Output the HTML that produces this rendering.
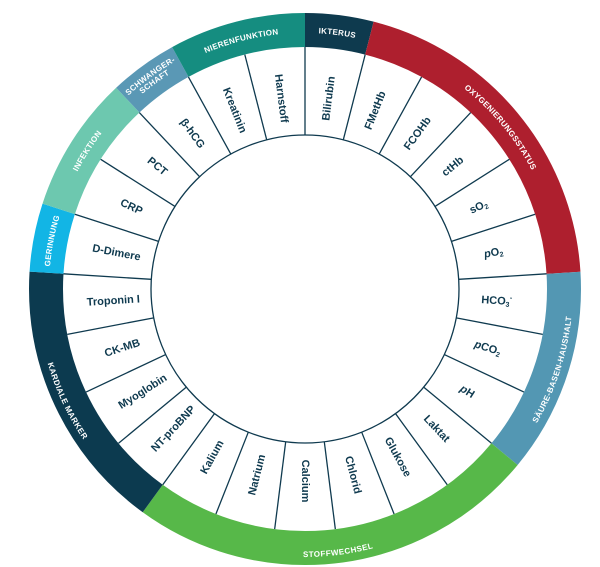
<!DOCTYPE html>
<html><head><meta charset="utf-8"><style>
html,body{margin:0;padding:0;background:#fff;width:600px;height:567px;overflow:hidden}
svg{display:block}
.l{font-family:"Liberation Sans",sans-serif;font-weight:bold;font-size:11px;fill:#0f3a4f;text-anchor:middle;dominant-baseline:central}
.b{font-family:"Liberation Sans",sans-serif;font-weight:bold;font-size:8px;fill:#fff;text-anchor:middle;letter-spacing:0.3px}
</style></head><body>
<svg width="600" height="567" viewBox="0 0 600 567">
<defs>
<path id="cw" d="M305,545 A256,256 0 0 1 305,33 A256,256 0 0 1 305,545"/>
<path id="cwo" d="M305,551 A262,262 0 0 1 305,27 A262,262 0 0 1 305,551"/>
<path id="cwi" d="M305,543 A254,254 0 0 1 305,35 A254,254 0 0 1 305,543"/>
<path id="ccw" d="M305,27 A262,262 0 0 0 305,551 A262,262 0 0 0 305,27"/>
</defs>
<g transform="translate(305 289) rotate(-90)" fill="none" stroke-width="34">
<circle r="259" stroke="#0e3a4e" stroke-dasharray="65.09 2000" stroke-dashoffset="0"/>
<circle r="259" stroke="#ae1f2e" stroke-dasharray="325.46 2000" stroke-dashoffset="-65.09"/>
<circle r="259" stroke="#5397b3" stroke-dasharray="195.28 2000" stroke-dashoffset="-390.55"/>
<circle r="259" stroke="#57b849" stroke-dasharray="390.55 2000" stroke-dashoffset="-585.83"/>
<circle r="259" stroke="#0c3a4f" stroke-dasharray="260.37 2000" stroke-dashoffset="-976.38"/>
<circle r="259" stroke="#12b5e5" stroke-dasharray="65.09 2000" stroke-dashoffset="-1236.75"/>
<circle r="259" stroke="#6dc8af" stroke-dasharray="130.18 2000" stroke-dashoffset="-1301.84"/>
<circle r="259" stroke="#5a98b5" stroke-dasharray="65.09 2000" stroke-dashoffset="-1432.02"/>
<circle r="259" stroke="#158d80" stroke-dasharray="130.18 2000" stroke-dashoffset="-1497.11"/>
</g>
<circle cx="305" cy="289" r="154" fill="#fff" stroke="#0f3a4f" stroke-width="1.3"/>
<g transform="translate(305 289)" stroke="#0f3a4f" stroke-width="1.3">
<line x1="0" y1="-154" x2="0" y2="-242" transform="rotate(0)"/>
<line x1="0" y1="-154" x2="0" y2="-242" transform="rotate(14.4)"/>
<line x1="0" y1="-154" x2="0" y2="-242" transform="rotate(28.8)"/>
<line x1="0" y1="-154" x2="0" y2="-242" transform="rotate(43.2)"/>
<line x1="0" y1="-154" x2="0" y2="-242" transform="rotate(57.6)"/>
<line x1="0" y1="-154" x2="0" y2="-242" transform="rotate(72)"/>
<line x1="0" y1="-154" x2="0" y2="-242" transform="rotate(86.4)"/>
<line x1="0" y1="-154" x2="0" y2="-242" transform="rotate(100.8)"/>
<line x1="0" y1="-154" x2="0" y2="-242" transform="rotate(115.2)"/>
<line x1="0" y1="-154" x2="0" y2="-242" transform="rotate(129.6)"/>
<line x1="0" y1="-154" x2="0" y2="-242" transform="rotate(144)"/>
<line x1="0" y1="-154" x2="0" y2="-242" transform="rotate(158.4)"/>
<line x1="0" y1="-154" x2="0" y2="-242" transform="rotate(172.8)"/>
<line x1="0" y1="-154" x2="0" y2="-242" transform="rotate(187.2)"/>
<line x1="0" y1="-154" x2="0" y2="-242" transform="rotate(201.6)"/>
<line x1="0" y1="-154" x2="0" y2="-242" transform="rotate(216)"/>
<line x1="0" y1="-154" x2="0" y2="-242" transform="rotate(230.4)"/>
<line x1="0" y1="-154" x2="0" y2="-242" transform="rotate(244.8)"/>
<line x1="0" y1="-154" x2="0" y2="-242" transform="rotate(259.2)"/>
<line x1="0" y1="-154" x2="0" y2="-242" transform="rotate(273.6)"/>
<line x1="0" y1="-154" x2="0" y2="-242" transform="rotate(288)"/>
<line x1="0" y1="-154" x2="0" y2="-242" transform="rotate(302.4)"/>
<line x1="0" y1="-154" x2="0" y2="-242" transform="rotate(316.8)"/>
<line x1="0" y1="-154" x2="0" y2="-242" transform="rotate(331.2)"/>
<line x1="0" y1="-154" x2="0" y2="-242" transform="rotate(345.6)"/>
</g>
<g transform="translate(305 289)">
<text class="l" transform="rotate(-82.8) translate(192 0)">Bilirubin</text>
<text class="l" transform="rotate(-68.4) translate(192 0)">FMetHb</text>
<text class="l" transform="rotate(-54) translate(192 0)">FCOHb</text>
<text class="l" transform="rotate(-39.6) translate(192 0)">ctHb</text>
<text class="l" transform="rotate(-25.2) translate(192 0)">sO<tspan font-size="7" dy="3">2</tspan></text>
<text class="l" transform="rotate(-10.8) translate(192 0)"><tspan font-style="italic">p</tspan>O<tspan font-size="7" dy="3">2</tspan></text>
<text class="l" transform="rotate(3.6) translate(192 0)">HCO<tspan font-size="7" dy="3">3</tspan><tspan font-size="7" dy="-7">-</tspan></text>
<text class="l" transform="rotate(18) translate(192 0)"><tspan font-style="italic">p</tspan>CO<tspan font-size="7" dy="3">2</tspan></text>
<text class="l" transform="rotate(32.4) translate(192 0)"><tspan font-style="italic">p</tspan>H</text>
<text class="l" transform="rotate(46.8) translate(192 0)">Laktat</text>
<text class="l" transform="rotate(61.2) translate(192 0)">Glukose</text>
<text class="l" transform="rotate(75.6) translate(192 0)">Chlorid</text>
<text class="l" transform="rotate(90) translate(192 0)">Calcium</text>
<text class="l" transform="rotate(284.4) translate(-192 0)">Natrium</text>
<text class="l" transform="rotate(298.8) translate(-192 0)">Kalium</text>
<text class="l" transform="rotate(313.2) translate(-192 0)">NT-proBNP</text>
<text class="l" transform="rotate(327.6) translate(-192 0)">Myoglobin</text>
<text class="l" transform="rotate(342) translate(-192 0)">CK-MB</text>
<text class="l" transform="rotate(356.4) translate(-192 0)">Troponin I</text>
<text class="l" transform="rotate(370.8) translate(-192 0)">D-Dimere</text>
<text class="l" transform="rotate(385.2) translate(-192 0)">CRP</text>
<text class="l" transform="rotate(399.6) translate(-192 0)">PCT</text>
<text class="l" transform="rotate(414) translate(-192 0)">β-hCG</text>
<text class="l" transform="rotate(428.4) translate(-192 0)">Kreatinin</text>
<text class="l" transform="rotate(442.8) translate(-192 0)">Harnstoff</text>
</g>
<text class="b"><textPath href="#cw" startOffset="52%">IKTERUS</textPath></text>
<text class="b"><textPath href="#cw" startOffset="64%">OXYGENIERUNGSSTATUS</textPath></text>
<text class="b"><textPath href="#cw" startOffset="28%">GERINNUNG</textPath></text>
<text class="b"><textPath href="#cw" startOffset="34%">INFEKTION</textPath></text>
<text class="b" font-size="7"><textPath href="#cwo" startOffset="40%">SCHWANGER-</textPath></text>
<text class="b" font-size="7"><textPath href="#cwi" startOffset="40%">SCHAFT</textPath></text>
<text class="b"><textPath href="#cw" startOffset="46%">NIERENFUNKTION</textPath></text>
<text class="b" dy="6"><textPath href="#ccw" startOffset="32%">KARDIALE MARKER</textPath></text>
<text class="b" dy="6"><textPath href="#ccw" startOffset="52%">STOFFWECHSEL</textPath></text>
<text class="b" dy="6"><textPath href="#ccw" startOffset="70%">SÄURE-BASEN-HAUSHALT</textPath></text>
</svg>
</body></html>
